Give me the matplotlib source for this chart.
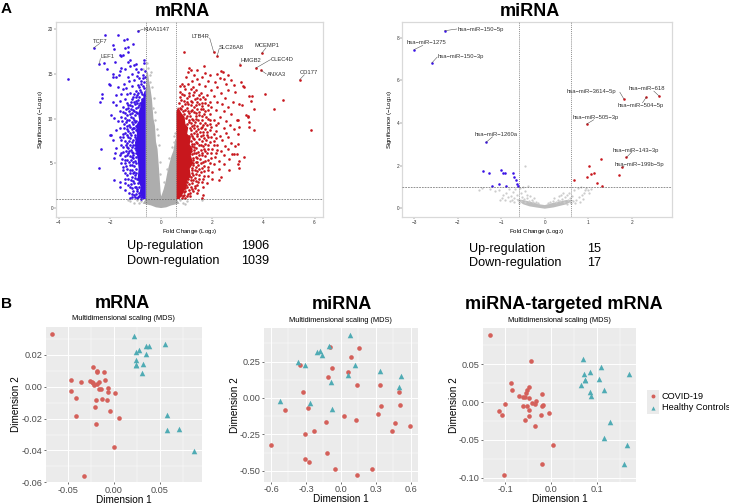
import numpy as np
from matplotlib import pyplot as plt

plt.rcParams['font.family'] = ['Liberation Sans', 'DejaVu Sans']
plt.rcParams['mathtext.default'] = 'regular'

W, H = 729, 504

# ---- volcano mRNA, scattered points
mrna_blue = [(-0.91,19.8),(-2.2,19.4),(-1.7,19.4),(-2.64,17.9),(-1.35,18.9),(-1.45,18.75),(-1.9,18.2),(-1.85,17.8),(-1.08,18.3),
 (-1.3,18.0),(-1.42,17.9),(-1.3,17.5),(-1.6,17.1),(-1.5,17.1),(-1.55,17.0),(-2.41,16.1),(-2.25,16.2),(-1.8,16.3),(-1.2,16.6),
 (-1.0,16.1),(-0.65,16.5),(-0.65,16.2),(-1.0,15.6),(-1.3,16.3),(-1.55,15.7),(-1.05,16.0),(-1.2,15.9),(-1.4,15.6),(-1.6,15.3),
 (-2.1,15.5),(-0.8,15.5),(-0.9,15.2),(-1.15,15.0),(-1.9,15.0),(-1.65,14.9),(-1.75,14.6),(-3.65,14.4),(-1.3,14.7),(-0.95,14.8),
 (-0.72,14.9),(-0.85,14.5),(-1.05,14.3),(-1.25,14.2),(-2.04,13.9),(-2.0,13.8),(-1.87,14.6),(-1.45,13.9),(-0.68,14.1),(-0.78,13.9),
 (-0.92,13.8),(-1.12,13.6),(-1.38,13.4),(-1.5,13.3),(-1.7,13.5),(-2.33,12.7),(-2.33,12.3),(-2.4,11.9),(-0.66,13.4),(-0.84,13.2),
 (-1.0,13.1),(-1.2,12.9),(-1.32,12.8),(-1.55,12.7),(-1.78,12.6),(-0.74,12.8),(-0.95,12.6),(-1.1,12.4),(-1.42,12.2),(-1.62,12.0),
 (-1.9,11.9),(-1.75,11.5),(-1.35,11.7),(-1.18,11.9),(-1.03,11.6),(-1.5,11.3),(-1.28,11.2),(-1.6,10.9),(-1.1,11.0),(-1.95,10.4),
 (-1.85,10.1),(-1.42,10.6),(-1.22,10.5),(-1.55,10.2),(-1.33,9.9),(-1.1,10.1),(-1.7,9.7),(-1.02,9.6),(-1.45,9.4),(-1.25,9.3),
 (-1.6,9.0),(-1.1,9.0),(-1.35,8.8),(-1.75,8.7),(-1.94,8.2),(-2.0,8.2),(-1.5,8.3),(-1.2,8.4),(-1.03,8.2),(-1.62,7.9),(-1.3,7.9),
 (-1.9,7.6),(-1.42,7.5),(-1.1,7.6),(-1.2,7.1),(-1.55,7.1),(-1.02,7.0),(-1.35,6.8),(-1.75,6.7),(-2.34,6.6),(-1.25,6.4),(-1.48,6.3),
 (-1.08,6.2),(-1.81,6.1),(-1.6,5.9),(-1.33,5.9),(-1.15,5.7),(-1.83,5.6),(-1.42,5.4),(-1.02,5.3),(-1.25,5.1),(-1.58,5.0),(-1.12,4.8),
 (-1.38,4.7),(-2.41,4.45),(-1.0,4.4),(-1.22,4.3),(-1.5,4.2),(-1.1,3.9),(-1.32,3.7),(-1.02,3.4),(-1.42,3.3),(-1.85,3.15),(-1.18,3.1),
 (-1.62,2.9),(-1.05,2.8),(-1.3,2.6),(-1.59,2.4),(-0.98,2.4),(-1.15,2.2),(-1.42,2.05),(-0.95,1.9),(-1.25,1.7),(-1.05,1.5),(-0.85,1.4),
 (-1.12,1.2),(-0.95,1.1),(-0.8,1.05),(-1.0,10.7),(-0.98,12.0),(-0.9,11.3),(-1.05,9.0),(-1.0,7.7),(-1.0,6.5),(-1.08,5.6),(-1.05,4.0)]

# second reading of the crowded band left of the threshold
mrna_blue_band = [(-0.62,15.3),(-0.7,14.5),(-0.62,14.7),(-0.8,14.2),(-0.7,13.6),(-0.88,13.5),(-0.8,13.0),(-0.66,12.6),(-0.9,12.9),(-1.05,12.8),
 (-0.85,12.4),(-0.76,12.2),(-0.98,12.4),(-1.14,12.2),(-0.92,12.1),(-0.82,11.8),(-1.06,11.9),(-1.22,11.5),(-0.95,11.7),(-0.88,11.5),
 (-1.12,11.4),(-1.3,11.5),(-0.98,11.2),(-1.18,11.1),(-1.38,11.1),(-1.05,10.9),(-0.95,10.6),(-1.25,10.8),(-1.12,10.6),(-1.48,10.7),
 (-1.02,10.4),(-1.32,10.4),(-1.18,10.2),(-1.42,10.1),(-1.06,9.9),(-1.25,9.8),(-0.98,9.7),(-1.15,9.6),(-1.38,9.6),(-1.52,9.7),(-1.08,9.4),
 (-1.32,9.2),(-1.2,9.1),(-0.98,9.2),(-1.45,9.0),(-1.12,8.8),(-1.0,8.7),(-1.28,8.6),(-1.42,8.4),(-1.08,8.5),(-1.18,8.2),(-1.35,8.2),
 (-1.02,7.9),(-1.2,7.8),(-1.48,7.9),(-1.12,7.4),(-1.32,7.3),(-1.0,7.4),(-1.25,7.5),(-1.55,7.6),(-1.08,7.0),(-1.38,7.1),(-1.15,6.8),
 (-1.02,6.7),(-1.28,6.7),(-1.48,6.8),(-1.18,6.5),(-1.38,6.4),(-1.0,6.2),(-1.12,6.3),(-1.28,6.1),(-1.55,6.2),(-1.08,5.9),(-1.22,5.8),
 (-1.42,5.8),(-1.0,5.7),(-1.18,5.4),(-1.32,5.4),(-1.52,5.5),(-1.1,5.2),(-1.42,5.0),(-0.98,5.0),(-1.22,4.8),(-1.05,4.7),(-1.32,4.4),
 (-1.48,4.6),(-1.12,4.3),(-0.98,3.9),(-1.22,3.9),(-1.4,3.9),(-1.02,3.7),(-1.15,3.5),(-1.28,3.3),(-0.95,3.2),(-1.08,3.0),(-0.92,2.8),
 (-1.18,2.7),(-1.42,2.8),(-1.02,2.4),(-0.88,2.3),(-1.22,2.3),(-0.95,2.1),(-1.08,1.9),(-0.88,1.7),(-1.0,1.6),(-0.82,1.5),(-1.15,1.6),
 (-0.9,1.25),(-0.78,1.25),(-1.02,1.25),(-1.22,1.15)]

mrna_red = [(2.06,17.4),(2.19,17.0),(3.93,17.3),(3.10,16.0),(3.71,15.66),(3.91,15.4),(5.42,14.36),(5.85,8.7),(0.9,17.4),(1.68,15.9),
 (1.1,15.7),(1.15,15.4),(1.05,15.2),(1.42,15.4),(1.7,15.1),(2.35,15.3),(2.42,15.2),(2.2,15.0),(1.28,14.9),(1.92,14.9),(2.62,14.9),
 (0.98,14.7),(1.6,14.6),(2.3,14.5),(1.42,14.4),(2.45,14.4),(2.72,14.3),(3.12,14.1),(1.2,14.2),(1.85,14.2),(2.1,14.1),(0.82,13.9),
 (1.05,13.9),(1.5,13.9),(2.55,13.9),(2.85,13.8),(0.75,13.6),(1.25,13.5),(1.72,13.6),(2.2,13.5),(3.22,13.6),(3.24,13.5),(0.95,13.3),
 (1.38,13.2),(1.95,13.2),(2.6,13.2),(2.9,13.0),(1.1,12.9),(1.55,12.9),(2.35,12.9),(0.8,12.7),(1.25,12.6),(1.78,12.6),(2.05,12.5),
 (4.05,12.7),(3.55,12.5),(3.45,12.5),(0.72,12.4),(1.02,12.3),(1.4,12.3),(1.62,12.4),(2.5,12.3),(0.88,12.0),(1.18,12.0),(1.9,11.9),
 (2.2,11.9),(2.8,11.9),(3.5,12.0),(4.78,12.1),(0.68,11.7),(1.05,11.6),(1.48,11.6),(1.7,11.7),(2.4,11.6),(3.05,11.6),(3.15,11.5),
 (0.82,11.4),(1.28,11.3),(1.95,11.3),(2.6,11.3),(0.95,11.0),(1.55,11.1),(2.15,11.0),(3.62,11.1),(4.4,11.1),(1.15,10.8),(1.72,10.8),
 (2.45,10.8),(1.38,10.6),(1.9,10.5),(2.75,10.5),(3.3,10.4),(3.4,10.3),(1.02,10.3),(1.58,10.3),(2.3,10.2),(3.38,10.2),(1.22,10.0),
 (1.82,10.0),(2.05,9.9),(2.95,9.9),(3.0,9.9),(1.45,9.8),(2.55,9.7),(3.42,9.6),(1.08,9.6),(1.7,9.5),(2.22,9.5),(2.7,9.3),(3.05,9.1),
 (1.3,9.3),(1.95,9.1),(2.45,9.0),(3.45,9.1),(1.12,9.0),(1.55,8.9),(2.85,8.8),(3.65,8.7),(1.38,8.6),(1.8,8.5),(2.15,8.6),(2.55,8.4),
 (1.18,8.3),(1.65,8.2),(3.0,8.3),(1.42,8.0),(1.95,7.9),(2.3,8.0),(2.62,7.9),(1.25,7.8),(1.75,7.6),(2.05,7.5),(2.4,7.6),(1.35,7.4),
 (2.75,7.3),(3.02,7.2),(1.55,7.1),(1.85,7.0),(2.2,7.1),(2.5,6.9),(2.9,6.9),(1.28,6.8),(1.68,6.6),(2.0,6.6),(2.35,6.4),(2.62,6.6),
 (1.45,6.3),(1.8,6.2),(2.15,6.1),(2.78,6.0),(2.85,6.0),(2.95,6.0),(1.3,6.1),(1.6,5.9),(2.45,5.9),(3.25,5.7),(1.42,5.6),(1.95,5.6),
 (2.65,5.5),(1.72,5.3),(2.25,5.3),(3.05,5.3),(3.02,4.9),(1.35,5.2),(1.55,5.0),(2.05,4.9),(2.45,4.9),(3.05,4.5),(1.25,4.8),(1.82,4.6),
 (2.25,4.4),(1.48,4.4),(2.65,4.3),(1.32,4.2),(1.68,4.1),(2.0,4.0),(1.22,3.9),(1.5,3.7),(1.85,3.6),(2.35,3.5),(1.32,3.4),(1.65,3.2),
 (2.0,3.2),(2.25,3.1),(1.15,3.1),(1.45,2.9),(1.8,2.8),(1.1,2.7),(1.32,2.5),(1.62,2.4),(1.0,2.3),(1.2,2.1),(1.45,2.0),(0.95,1.9),
 (1.12,1.7),(1.62,1.5),(0.88,1.5),(1.02,1.3),(1.6,1.1),(0.8,1.1),(1.15,9.5),(1.1,8.0),(1.22,7.2),(1.25,5.6),(1.18,6.4),(1.2,4.5),
 (1.05,10.9),(0.9,10.5),(1.0,11.9),(0.9,12.6),(0.72,13.0),(0.78,11.1),(1.35,3.0),(1.1,3.6)]

# second reading of the crowded band right of the threshold
mrna_red_band = [(0.9,13.6),(1.15,13.3),(1.3,13.0),(1.48,12.6),(1.1,12.5),(1.32,12.2),(1.52,12.2),(1.7,12.2),(1.22,11.9),(1.42,11.9),(1.58,11.8),
 (0.78,12.1),(0.92,11.6),(1.15,11.5),(1.35,11.5),(1.6,11.4),(1.82,11.5),(1.02,11.2),(1.22,11.0),(1.42,11.1),(1.65,11.1),(1.85,11.0),
 (0.72,11.2),(1.08,10.6),(1.28,10.7),(1.5,10.7),(1.68,10.5),(0.85,10.8),(1.12,10.3),(1.35,10.3),(1.48,10.4),(1.75,10.2),(0.98,10.1),
 (1.25,9.8),(1.38,10.0),(1.58,9.8),(1.9,9.8),(1.1,9.8),(1.32,9.6),(1.52,9.5),(1.65,9.3),(1.8,9.3),(1.02,9.4),(1.2,9.2),(1.42,9.2),
 (1.58,9.1),(1.92,9.4),(2.15,9.3),(1.28,8.9),(1.45,8.8),(1.7,8.8),(1.18,8.7),(1.92,8.7),(1.52,8.5),(1.3,8.4),(1.62,8.5),(2.05,8.3),
 (1.4,8.3),(1.78,8.2),(1.22,8.0),(1.55,8.0),(1.85,7.9),(1.3,7.7),(1.48,7.7),(1.68,7.8),(2.15,7.8),(1.18,7.5),(1.42,7.3),(1.6,7.5),
 (1.9,7.4),(1.28,7.2),(1.72,7.2),(1.48,7.0),(1.22,6.9),(1.65,6.9),(2.05,7.0),(1.38,6.7),(1.85,6.6),(1.55,6.5),(1.28,6.5),(1.72,6.4),
 (2.2,6.5),(1.38,6.2),(1.58,6.2),(1.95,6.1),(1.22,6.0),(1.48,5.9),(1.7,5.8),(1.38,5.7),(2.1,5.7),(1.25,5.4),(1.52,5.5),(1.85,5.4),
 (1.42,5.2),(1.65,5.1),(1.25,5.0),(1.9,5.0),(1.45,4.8),(1.68,4.7),(1.35,4.6),(1.58,4.5),(1.22,4.3),(1.4,4.1),(1.85,4.2),(1.25,3.7),
 (1.55,4.0),(1.38,3.8),(1.68,3.6),(1.18,3.5),(1.48,3.3),(1.05,3.3),(1.25,3.1),(1.58,2.9),(1.02,2.9),(1.22,2.8),(1.42,2.6),(0.98,2.6),
 (1.15,2.4),(1.32,2.2),(0.92,2.2),(1.08,2.0),(1.25,1.9),(0.9,1.8),(1.05,1.6),(0.85,1.3),(0.95,1.15),(1.12,1.3),(0.78,1.5),(1.4,1.7)]

# outlines of the parts where the points merge into a solid mass
grey_cloud_x = [-0.6,-0.6,-0.57,-0.52,-0.47,-0.42,-0.36,-0.3,-0.24,-0.2,-0.14,-0.09,-0.05,-0.02,0.0,0.04,0.1,0.18,0.26,0.32,0.4,0.48,0.56,0.6,0.6,0.72,0.4,0.2,0.0,-0.2,-0.4,-0.72]
grey_cloud_y = [1.0,13.0,15.0,15.3,14.2,13.4,12.2,10.0,9.2,7.4,6.6,4.7,3.0,1.8,1.3,1.6,2.1,3.0,4.2,4.9,5.8,6.4,7.8,7.5,1.0,0.5,0.3,0.08,0.0,0.08,0.3,0.5]
blue_core_x = [-0.6,-0.6,-0.66,-0.7,-0.77,-0.82,-0.9,-0.86,-0.98,-0.94,-1.02,-0.96,-0.92,-0.88,-0.92,-0.8,-0.84,-0.72]
blue_core_y = [1.0,13.2,13.0,12.3,12.1,11.2,10.6,9.8,9.2,8.1,7.3,6.2,5.5,4.4,3.2,2.4,1.7,1.0]
red_core_x = [0.6,0.6,0.66,0.76,0.8,0.92,0.95,1.06,1.02,1.16,1.12,1.24,1.16,1.26,1.12,1.16,1.02,0.98,0.85,0.72]
red_core_y = [1.0,10.8,11.3,10.8,10.6,10.2,9.4,9.0,8.3,7.9,7.1,6.6,5.9,5.0,4.4,3.6,3.0,2.3,1.6,1.0]
mrna_grey = [(-0.7,15.6),(-0.55,16.2),(-0.45,14.9),(-0.35,13.5),(-0.28,12.3),(-0.4,15.2),(-0.25,10.7),(-0.12,8.2),(0.5,8.1),(0.55,8.4),
 (-1.3,0.9),(-1.2,0.75),(-1.05,0.6),(-0.95,0.85),(-0.85,0.6),(-0.78,0.8),(0.75,0.85),(0.85,0.6),(0.95,0.5),(1.6,0.9),(1.0,0.75),
 (-0.32,11.2),(-0.24,9.8),(-0.18,8.8),(-0.1,7.1),(-0.42,14.1),(-0.5,15.7),(0.1,2.9),(0.22,4.4),(0.42,6.8),(0.52,7.4),(0.3,5.6),(-0.06,5.2),(-0.04,3.8)]

mrna_labels = ['KIAA1147','TCF7','LEF1','LTB4R','SLC26A8','MCEMP1','HMGB2','CLEC4D','ANXA3','CD177']
mrna_label_pt = [(-0.91,19.8),(-2.64,17.9),(-2.41,16.1),(2.06,17.4),(2.19,17.0),(3.93,17.3),(3.10,16.0),(3.71,15.66),(3.91,15.4),(5.42,14.36)]
mrna_label_xy = [(-0.68,20.0),(-2.68,18.6),(-2.36,16.9),(1.18,19.2),(2.27,18.0),(3.66,18.2),(3.09,16.5),(4.30,16.66),(4.13,14.9),(5.42,15.2)]
mrna_line_end = [(-0.7,20.0),(-2.4,18.4),(-2.38,16.7),(1.9,19.0),(2.27,17.8),(4.1,17.9),(3.1,16.2),(4.28,16.6),(4.11,15.0),(5.6,14.9)]

# ---- volcano miRNA
mirna_blue = [(-2.30,8.34),(-3.0,7.45),(-2.59,6.83),(-1.35,3.09),(-1.41,1.72),(-1.27,1.63),(-1.0,1.78),(-0.96,1.66),(-0.91,1.66),(-0.73,1.66),
 (-0.70,1.44),(-0.67,1.31),(-0.635,1.14),(-0.61,1.05),(-1.06,1.14),(-0.88,1.03),(-1.22,1.03)]
mirna_red = [(1.81,5.14),(2.62,5.27),(2.33,5.22),(0.96,3.95),(1.87,2.38),(1.76,1.91),(1.28,2.31),(1.01,1.98),(1.12,1.64),(1.06,1.61),(1.69,1.55),
 (0.96,1.44),(0.66,1.31),(1.19,1.20),(1.32,1.03)]
mirna_grey = [(-0.46,1.98),(-1.5,0.84),(-1.45,0.95),(-1.25,0.9),(-1.15,0.8),(-1.05,0.85),(-0.95,0.6),(-0.9,0.7),(-0.85,0.5),(-0.82,0.92),
 (-0.78,0.55),(-0.72,0.75),(-0.7,0.45),(-0.68,0.9),(-0.65,0.6),(-0.62,0.38),(-0.58,0.95),(-0.55,0.7),(-0.52,0.5),(-0.5,1.0),(-0.48,0.42),
 (-0.45,0.8),(-0.42,0.6),(-0.4,0.45),(-0.38,1.05),(-0.36,0.35),(-0.33,0.55),(-0.3,0.4),(-1.02,0.4),(-0.98,0.45),(-0.92,0.38),(-0.8,0.35),
 (-0.75,0.38),(-0.28,0.3),(-0.25,0.45),(0.12,0.3),(0.18,0.35),(0.22,0.48),(0.25,0.28),(0.3,0.4),(0.33,0.55),(0.35,0.33),(0.38,0.62),
 (0.4,0.42),(0.42,0.7),(0.45,0.3),(0.47,0.5),(0.5,0.62),(0.52,0.38),(0.55,0.72),(0.57,0.45),(0.58,0.3),(0.62,0.55),(0.65,0.35),(0.68,0.85),
 (0.72,0.4),(0.75,0.95),(0.78,0.52),(0.8,0.3),(0.82,1.0),(0.85,0.62),(0.88,0.42),(0.92,0.85),(0.95,0.95),(1.0,0.85),(1.02,0.72),(0.9,0.7),(1.05,0.9),
 (-0.2,0.3),(-0.15,0.26),(-0.45,0.3),(-0.6,0.25),(-0.7,0.3),(-0.55,0.35),(0.08,0.24),(0.5,0.2),(0.6,0.22),(0.7,0.25)]
mirna_core_x = [-0.66,-0.5,-0.3,-0.1,0.0,0.1,0.3,0.5,0.66,0.5,0.3,0.2,0.0,-0.2,-0.35,-0.5]
mirna_core_y = [0.42,0.38,0.28,0.17,0.14,0.2,0.3,0.38,0.38,0.18,0.08,0.03,-0.03,0.03,0.08,0.18]

mirna_labels = ['hsa\u2212miR\u2212150\u22125p','hsa\u2212miR\u22121275','hsa\u2212miR\u2212150\u22123p','hsa\u2212miR\u22123614\u22125p','hsa\u2212miR\u2212618',
 'hsa\u2212miR\u2212504\u22125p','hsa\u2212miR\u2212505\u22123p','hsa\u2212miR\u22121260a','hsa\u2212miR\u2212143\u22123p','hsa\u2212miR\u2212199b\u22125p']
mirna_label_pt = [(-2.30,8.34),(-3.0,7.45),(-2.59,6.83),(1.81,5.14),(2.62,5.27),(2.33,5.22),(0.96,3.95),(-1.35,3.09),(1.87,2.38),(1.76,1.91)]
mirna_label_xy = [(-2.0,8.42),(-3.17,7.78),(-2.46,7.14),(0.51,5.47),(1.93,5.61),(1.68,4.80),(0.635,4.28),(-1.61,3.44),(1.56,2.72),(1.61,2.03)]
mirna_line_end = [(-2.02,8.42),(-2.8,7.65),(-2.47,7.1),(1.72,5.45),(2.5,5.5),(2.24,4.95),(1.12,4.15),(-1.2,3.35),(2.0,2.65),(1.82,1.98)]

# ---- MDS panels
mds1_cx = [-.0667,-.0228,-.0185,-.0185,-.0105,-.046,-.0355,-.0261,-.0236,-.0217,-.0225,-.0178,-.0156,-.0098,-.0163,-.0138,-.0062,-.0058,.0014,-.046,-.0413,-.0192,-.0123,-.0069,-.0203,-.0036,-.0413,.0058,-.0192,0,-.0322]
mds1_cy = [.0329,.0126,.0098,.0090,.0092,.0040,.0031,.0038,.0029,.0010,.0021,.0015,.0031,.0040,-.0017,-.0013,-.0008,-.0036,-.0042,-.0029,-.0069,-.0082,-.0077,-.0084,-.0128,-.0155,-.0186,-.0195,-.0237,-.0381,-.0559]
mds1_tx = [.0217,.0279,.0239,.0351,.0388,.0558,.0351,.0239,.0322,.0243,.0246,.0304,.0576,.0583,.071,.0877]
mds1_ty = [.0318,.0232,.0216,.0255,.0255,.0266,.0203,.0170,.0140,.0136,.0136,.0084,-.0176,-.0272,-.0268,-.0406]

mds2_cx = [-.090,.153,.085,-.073,-.351,.062,-.110,.139,.337,-.325,.500,.506,.342,-.282,-.480,.030,.317,.133,-.130,.463,.595,.437,-.231,-.305,-.603,-.122,-.305,-.271,-.047,.271,.136]
mds2_cy = [.348,.341,.279,.208,.227,.176,.142,.089,.089,.039,.039,-.046,-.055,-.069,-.085,-.121,-.108,-.149,-.162,-.169,-.195,-.229,-.227,-.249,-.320,-.380,-.416,-.439,-.490,-.487,-.526]
mds2_tx = [.076,-.105,-.179,-.208,-.159,-.365,-.311,.125,.337,.062,.514,-.087,.503,-.526,-.268,-.079]
mds2_ty = [.432,.359,.323,.318,.295,.249,.229,.224,.185,.156,.151,.112,.073,-.018,-.037,-.078]

mds3_cx = [-.133,-.044,-.088,-.084,-.048,-.052,-.055,-.020,-.069,-.062,-.056,-.049,-.033,-.042,-.034,-.017,-.020,-.099,-.062,-.053,-.112,-.107,-.049,-.047,-.023,-.004,-.056,-.035,.004,-.019,-.102]
mds3_cy = [.0881,.0542,.0247,.0163,.0194,.0163,.0123,.0110,.0079,.0066,.0066,.0057,.0013,-.0013,-.0026,-.0040,-.0057,-.0026,-.0057,-.0057,-.0119,-.0172,-.0110,-.0181,-.0172,-.0150,-.0242,-.0313,-.0568,-.0824,-.0960]
mds3_tx = [.070,.109,.085,.072,.169,.104,.074,.073,.065,.114,.085,.086,.127,.115,.164,.157]
mds3_ty = [.0573,.0463,.0401,.0374,.0374,.0308,.0291,.0286,.0229,.0154,.0137,.0084,-.0260,-.0480,-.0564,-.0824]

BLUE = '#3a12e6'
RED = '#c8171d'
GREY = '#adadad'
CIRC = '#d4605a'
TEAL = '#4fabb4'


def px_axes(fig, left, top, right, bottom):
    return fig.add_axes([left / W, 1 - bottom / H, (right - left) / W, (bottom - top) / H])


def volcano(ax, xlim, ylim, xt, yt):
    ax.set_xlim(xlim)
    ax.set_ylim(ylim)
    ax.set_xticks(xt)
    ax.set_yticks(yt)
    ax.tick_params(labelsize=3.4, length=1.2, width=0.3, pad=1, colors='#333333')
    for sp in ax.spines.values():
        sp.set_color('#d9d9d9')
        sp.set_linewidth(0.9)
    ax.set_xlabel('Fold Change (Log$_2$)', fontsize=4.4, labelpad=1.5)
    ax.set_ylabel('Significance (\u2212Log$_{10}$)', fontsize=4.4, labelpad=1.5)
    for v in (-0.6, 0.6):
        ax.axvline(v, color='#666666', lw=0.5, ls=(0, (1.5, 1.5)), zorder=6)
    ax.axhline(1, color='#666666', lw=0.5, ls=(0, (2.5, 1.5)), zorder=6)


def labels(ax, names, pts, xys, ends):
    for n, p, t, e in zip(names, pts, xys, ends):
        ax.plot([p[0], e[0]], [p[1], e[1]], color='#444444', lw=0.35, zorder=7)
        ax.text(t[0], t[1], n, fontsize=4.2, color='#333333', ha='left', va='center', zorder=8)


def mds(ax, cx, cy, tx, ty, xlim, ylim, xt, yt, xfmt, yfmt, minor_x, minor_y):
    ax.set_facecolor('#ebebeb')
    ax.set_xlim(xlim)
    ax.set_ylim(ylim)
    ax.set_xticks(xt)
    ax.set_xticklabels([xfmt.format(v) for v in xt])
    ax.set_yticks(yt)
    ax.set_yticklabels([yfmt.format(v) for v in yt])
    ax.set_xticks(minor_x, minor=True)
    ax.set_yticks(minor_y, minor=True)
    ax.grid(which='major', color='white', lw=0.7)
    ax.grid(which='minor', color='white', lw=0.35)
    ax.set_axisbelow(True)
    ax.tick_params(which='minor', length=0)
    ax.tick_params(which='major', labelsize=6.6, length=1.5, width=0.5, color='#333333', labelcolor='#4d4d4d', pad=1)
    for sp in ax.spines.values():
        sp.set_visible(False)
    ax.scatter(cx, cy, s=11, color=CIRC, linewidths=0, zorder=3)
    ax.scatter(tx, ty, s=16, color=TEAL, marker='^', linewidths=0, zorder=3)
    ax.set_xlabel('Dimension 1', fontsize=7.2, labelpad=0)
    ax.set_ylabel('Dimension 2', fontsize=7.2, labelpad=0)


fig = plt.figure(figsize=(W / 100, H / 100), dpi=100)

# panel A left
ax1 = px_axes(fig, 56, 22, 323, 217)
volcano(ax1, (-4.11, 6.33), (-1.0, 20.8), [-4, -2, 0, 2, 4, 6], [0, 5, 10, 15, 20])
ax1.fill(grey_cloud_x, grey_cloud_y, color=GREY, lw=0, zorder=2)
ax1.fill(blue_core_x, blue_core_y, color=BLUE, lw=0, zorder=3)
ax1.fill(red_core_x, red_core_y, color=RED, lw=0, zorder=3)
ax1.scatter(*zip(*mrna_grey), s=3, color='#c0c0c0', linewidths=0, zorder=2)
ax1.scatter(*zip(*(mrna_blue + mrna_blue_band)), s=3.6, color=BLUE, linewidths=0, zorder=4)
ax1.scatter(*zip(*(mrna_red + mrna_red_band)), s=3.6, color=RED, linewidths=0, zorder=4)
labels(ax1, mrna_labels, mrna_label_pt, mrna_label_xy, mrna_line_end)

# panel A right
ax2 = px_axes(fig, 402.3, 22, 671.7, 217)
volcano(ax2, (-3.27, 2.91), (-0.42, 8.75), [-3, -2, -1, 0, 1, 2], [0, 2, 4, 6, 8])
ax2.fill(mirna_core_x, mirna_core_y, color='#bdbdbd', lw=0, zorder=2)
ax2.scatter(*zip(*mirna_grey), s=2.6, color='#cccccc', linewidths=0, zorder=2)
ax2.scatter(*zip(*mirna_blue), s=3.4, color=BLUE, linewidths=0, zorder=4)
ax2.scatter(*zip(*mirna_red), s=3.4, color=RED, linewidths=0, zorder=4)
labels(ax2, mirna_labels, mirna_label_pt, mirna_label_xy, mirna_line_end)

fig.text(182 / W, 1 - 12 / H, 'mRNA', fontsize=13, fontweight='bold', ha='center', va='center')
fig.text(530 / W, 1 - 12 / H, 'miRNA', fontsize=13, fontweight='bold', ha='center', va='center')
fig.text(1 / W, 1 - 9 / H, 'A', fontsize=11, fontweight='bold', va='center')
fig.text(1 / W, 1 - 304 / H, 'B', fontsize=11, fontweight='bold', va='center')

# counts under the volcanoes
fig.text(127 / W, 1 - 246 / H, 'Up-regulation', fontsize=9.1, va='center')
fig.text(241 / W, 1 - 246 / H, '1906', fontsize=9.1, va='center')
fig.text(127 / W, 1 - 261 / H, 'Down-regulation', fontsize=9.1, va='center')
fig.text(241 / W, 1 - 261 / H, '1039', fontsize=9.1, va='center')
fig.text(469 / W, 1 - 249 / H, 'Up-regulation', fontsize=9.1, va='center')
fig.text(587 / W, 1 - 249 / H, '15', fontsize=9.1, va='center')
fig.text(469 / W, 1 - 263 / H, 'Down-regulation', fontsize=9.1, va='center')
fig.text(587 / W, 1 - 263 / H, '17', fontsize=9.1, va='center')

# panel B
ax3 = px_axes(fig, 45.7, 326.7, 201.7, 482.3)
mds(ax3, mds1_cx, mds1_cy, mds1_tx, mds1_ty, (-0.0739, 0.0957), (-0.06, 0.0377),
    [-0.05, 0, 0.05], [-0.06, -0.04, -0.02, 0, 0.02], '{:.2f}', '{:.2f}',
    [-0.025, 0.025, 0.075], [-0.05, -0.03, -0.01, 0.01, 0.03])
ax4 = px_axes(fig, 264, 328, 417.7, 481.7)
mds(ax4, mds2_cx, mds2_cy, mds2_tx, mds2_ty, (-0.66, 0.66), (-0.574, 0.48),
    [-0.6, -0.3, 0, 0.3, 0.6], [-0.5, -0.25, 0, 0.25], '{:.1f}', '{:.2f}',
    [-0.45, -0.15, 0.15, 0.45], [-0.375, -0.125, 0.125, 0.375])
ax5 = px_axes(fig, 483.3, 328, 636.3, 481.7)
mds(ax5, mds3_cx, mds3_cy, mds3_tx, mds3_ty, (-0.147, 0.1845), (-0.1053, 0.0978),
    [-0.1, 0, 0.1], [-0.1, -0.05, 0, 0.05], '{:.1f}', '{:.2f}',
    [-0.05, 0.05, 0.15], [-0.075, -0.025, 0.025, 0.075])

fig.text(122 / W, 1 - 304 / H, 'mRNA', fontsize=13, fontweight='bold', ha='center', va='center')
fig.text(342 / W, 1 - 304.5 / H, 'miRNA', fontsize=13, fontweight='bold', ha='center', va='center')
fig.text(564 / W, 1 - 304.5 / H, 'miRNA-targeted mRNA', fontsize=13, fontweight='bold', ha='center', va='center')
for cx_, sub_y in ((123, 319), (340, 320), (559, 320)):
    fig.text(cx_ / W, 1 - sub_y / H, 'Multidimensional scaling (MDS)', fontsize=5.3, ha='center', va='center')

# legend keys
key = px_axes(fig, 647, 390, 659, 414)
key.set_facecolor('#ebebeb')
key.set_xlim(0, 1)
key.set_ylim(0, 2)
key.set_xticks([])
key.set_yticks([])
for sp in key.spines.values():
    sp.set_visible(False)
key.scatter([0.5], [1.5], s=8, color=CIRC, linewidths=0)
key.scatter([0.5], [0.5], s=9, color=TEAL, marker='^', linewidths=0)
fig.text(662 / W, 1 - 396.5 / H, 'COVID-19', fontsize=6.6, va='center')
fig.text(662 / W, 1 - 408 / H, 'Healthy Controls', fontsize=6.6, va='center')

fig.savefig('out.png', dpi=100)
